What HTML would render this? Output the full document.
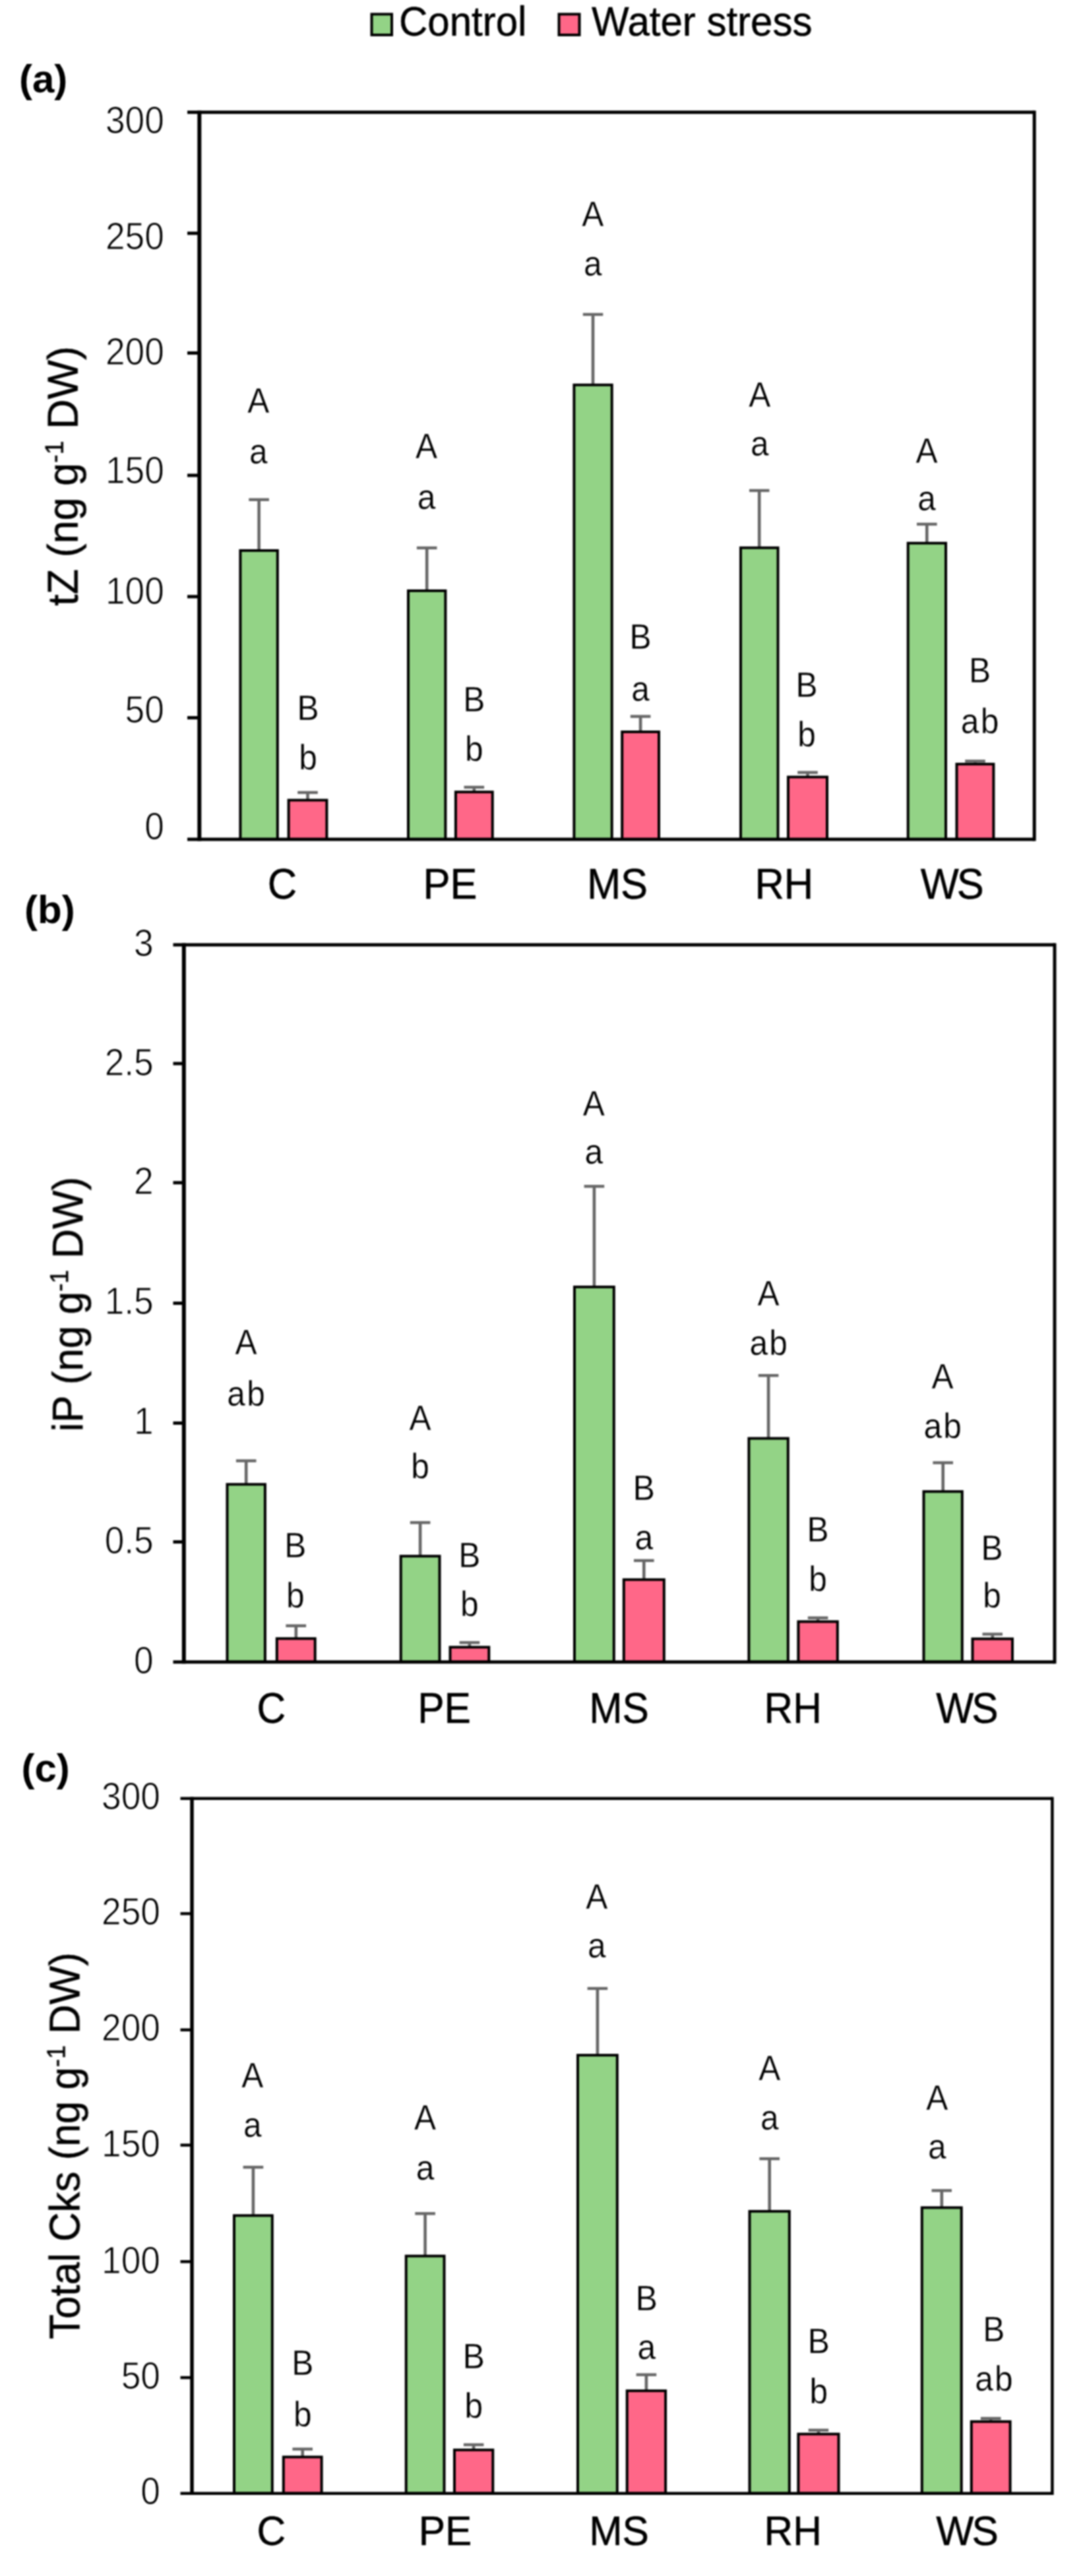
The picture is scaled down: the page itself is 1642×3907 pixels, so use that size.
<!DOCTYPE html>
<html lang="en"><head><meta charset="utf-8"><title>Figure</title>
<style>
html,body{margin:0;padding:0;background:#fff;}
svg{display:block;}
text{font-family:"Liberation Sans",sans-serif;fill:#000;}
text.a{fill:#000;stroke:#fff;stroke-width:0.35px;}
text.t{fill:#000;stroke:#fff;stroke-width:1.0px;}
text.s{stroke:#000;stroke-width:0.5px;}
text.b{font-weight:bold;}
.bl{filter:blur(0.8px);}
</style></head><body>
<svg width="1642" height="3907" viewBox="0 0 1642 3907">
<rect width="100%" height="100%" fill="#fff"/>
<g>
<g class="bl">
<rect x="563.5" y="21.5" width="30.5" height="31.5" fill="#93D386" stroke="#000" stroke-width="4"/>
<text transform="translate(605.0,54.0) scale(1,1.04)" font-size="60" text-anchor="start" class="s" >Control</text>
<rect x="847.5" y="21.5" width="31" height="31.5" fill="#FF6788" stroke="#000" stroke-width="4"/>
<text transform="translate(897.0,54.0) scale(1,1.04)" font-size="60" text-anchor="start" class="s" >Water stress</text>
<text x="29.0" y="139.5" font-size="60" text-anchor="start" class="b" >(a)</text>
<text x="37.0" y="1400.0" font-size="60" text-anchor="start" class="b" >(b)</text>
<text x="32.5" y="2702.4" font-size="60" text-anchor="start" class="b" >(c)</text>
</g>
<g class="bl">
<line x1="392.6" y1="757.8" x2="392.6" y2="835.0" stroke="#666666" stroke-width="4.6"/>
<line x1="377.3" y1="757.8" x2="407.9" y2="757.8" stroke="#666666" stroke-width="4.4"/>
<rect x="364.4" y="835.0" width="56.4" height="438.0" fill="#93D386" stroke="#000" stroke-width="4"/>
<text transform="translate(391.7,625.6) scale(0.92,1)" font-size="54" text-anchor="middle" class="a" >A</text>
<text transform="translate(391.7,703.0) scale(0.92,1)" font-size="54" text-anchor="middle" class="a" >a</text>
<line x1="466.5" y1="1202.0" x2="466.5" y2="1213.6" stroke="#666666" stroke-width="4.6"/>
<line x1="451.2" y1="1202.0" x2="481.8" y2="1202.0" stroke="#666666" stroke-width="4.4"/>
<rect x="437.6" y="1213.6" width="57.8" height="59.4" fill="#FF6788" stroke="#000" stroke-width="4"/>
<text transform="translate(467.0,1092.0) scale(0.92,1)" font-size="54" text-anchor="middle" class="a" >B</text>
<text transform="translate(467.0,1166.8) scale(0.92,1)" font-size="54" text-anchor="middle" class="a" >b</text>
<line x1="647.2" y1="831.0" x2="647.2" y2="896.0" stroke="#666666" stroke-width="4.6"/>
<line x1="631.9" y1="831.0" x2="662.5" y2="831.0" stroke="#666666" stroke-width="4.4"/>
<rect x="619.0" y="896.0" width="56.4" height="377.0" fill="#93D386" stroke="#000" stroke-width="4"/>
<text transform="translate(646.5,694.5) scale(0.92,1)" font-size="54" text-anchor="middle" class="a" >A</text>
<text transform="translate(646.5,771.7) scale(0.92,1)" font-size="54" text-anchor="middle" class="a" >a</text>
<line x1="718.8" y1="1194.0" x2="718.8" y2="1201.2" stroke="#666666" stroke-width="4.6"/>
<line x1="703.5" y1="1194.0" x2="734.1" y2="1194.0" stroke="#666666" stroke-width="4.4"/>
<rect x="690.9" y="1201.2" width="55.8" height="71.8" fill="#FF6788" stroke="#000" stroke-width="4"/>
<text transform="translate(718.8,1078.5) scale(0.92,1)" font-size="54" text-anchor="middle" class="a" >B</text>
<text transform="translate(718.8,1154.3) scale(0.92,1)" font-size="54" text-anchor="middle" class="a" >b</text>
<line x1="899.0" y1="476.9" x2="899.0" y2="583.8" stroke="#666666" stroke-width="4.6"/>
<line x1="883.8" y1="476.9" x2="914.3" y2="476.9" stroke="#666666" stroke-width="4.4"/>
<rect x="870.4" y="583.8" width="57.3" height="689.2" fill="#93D386" stroke="#000" stroke-width="4"/>
<text transform="translate(898.8,342.7) scale(0.92,1)" font-size="54" text-anchor="middle" class="a" >A</text>
<text transform="translate(898.8,417.5) scale(0.92,1)" font-size="54" text-anchor="middle" class="a" >a</text>
<line x1="971.1" y1="1086.6" x2="971.1" y2="1110.0" stroke="#666666" stroke-width="4.6"/>
<line x1="955.8" y1="1086.6" x2="986.4" y2="1086.6" stroke="#666666" stroke-width="4.4"/>
<rect x="943.2" y="1110.0" width="55.8" height="163.0" fill="#FF6788" stroke="#000" stroke-width="4"/>
<text transform="translate(971.0,984.4) scale(0.92,1)" font-size="54" text-anchor="middle" class="a" >B</text>
<text transform="translate(971.0,1063.2) scale(0.92,1)" font-size="54" text-anchor="middle" class="a" >a</text>
<line x1="1151.2" y1="744.0" x2="1151.2" y2="830.8" stroke="#666666" stroke-width="4.6"/>
<line x1="1136.0" y1="744.0" x2="1166.5" y2="744.0" stroke="#666666" stroke-width="4.4"/>
<rect x="1123.0" y="830.8" width="56.5" height="442.2" fill="#93D386" stroke="#000" stroke-width="4"/>
<text transform="translate(1151.7,617.0) scale(0.92,1)" font-size="54" text-anchor="middle" class="a" >A</text>
<text transform="translate(1151.7,691.0) scale(0.92,1)" font-size="54" text-anchor="middle" class="a" >a</text>
<line x1="1224.5" y1="1171.6" x2="1224.5" y2="1178.5" stroke="#666666" stroke-width="4.6"/>
<line x1="1209.2" y1="1171.6" x2="1239.8" y2="1171.6" stroke="#666666" stroke-width="4.4"/>
<rect x="1195.0" y="1178.5" width="59.0" height="94.5" fill="#FF6788" stroke="#000" stroke-width="4"/>
<text transform="translate(1223.0,1057.0) scale(0.92,1)" font-size="54" text-anchor="middle" class="a" >B</text>
<text transform="translate(1223.0,1131.8) scale(0.92,1)" font-size="54" text-anchor="middle" class="a" >b</text>
<line x1="1405.3" y1="795.0" x2="1405.3" y2="823.8" stroke="#666666" stroke-width="4.6"/>
<line x1="1390.0" y1="795.0" x2="1420.6" y2="795.0" stroke="#666666" stroke-width="4.4"/>
<rect x="1376.7" y="823.8" width="57.3" height="449.2" fill="#93D386" stroke="#000" stroke-width="4"/>
<text transform="translate(1405.0,702.0) scale(0.92,1)" font-size="54" text-anchor="middle" class="a" >A</text>
<text transform="translate(1405.0,774.4) scale(0.92,1)" font-size="54" text-anchor="middle" class="a" >a</text>
<line x1="1478.5" y1="1154.4" x2="1478.5" y2="1158.9" stroke="#666666" stroke-width="4.6"/>
<line x1="1463.2" y1="1154.4" x2="1493.8" y2="1154.4" stroke="#666666" stroke-width="4.4"/>
<rect x="1450.5" y="1158.9" width="55.9" height="114.1" fill="#FF6788" stroke="#000" stroke-width="4"/>
<text transform="translate(1485.5,1034.5) scale(0.92,1)" font-size="54" text-anchor="middle" class="a" >B</text>
<text transform="translate(1486.7,1112.0) scale(0.92,1)" font-size="54" text-anchor="middle" class="a" letter-spacing="2.5">ab</text>
<line x1="302.3" y1="167.8" x2="302.3" y2="1275.5" stroke="#000" stroke-width="6"/>
<line x1="1568.2" y1="167.8" x2="1568.2" y2="1275.5" stroke="#000" stroke-width="5"/>
<line x1="284.0" y1="170.3" x2="1568.2" y2="170.3" stroke="#000" stroke-width="5"/>
<line x1="284.0" y1="1273.0" x2="1568.2" y2="1273.0" stroke="#000" stroke-width="5"/>
<line x1="284.0" y1="353.8" x2="302.3" y2="353.8" stroke="#000" stroke-width="5"/>
<line x1="284.0" y1="535.4" x2="302.3" y2="535.4" stroke="#000" stroke-width="5"/>
<line x1="284.0" y1="721.0" x2="302.3" y2="721.0" stroke="#000" stroke-width="5"/>
<line x1="284.0" y1="904.9" x2="302.3" y2="904.9" stroke="#000" stroke-width="5"/>
<line x1="284.0" y1="1088.6" x2="302.3" y2="1088.6" stroke="#000" stroke-width="5"/>
<text transform="translate(248.8,201.7) scale(0.935,1)" font-size="57" text-anchor="end" class="t" >300</text>
<text transform="translate(248.8,378.3) scale(0.935,1)" font-size="57" text-anchor="end" class="t" >250</text>
<text transform="translate(248.8,552.9) scale(0.935,1)" font-size="57" text-anchor="end" class="t" >200</text>
<text transform="translate(248.8,733.0) scale(0.935,1)" font-size="57" text-anchor="end" class="t" >150</text>
<text transform="translate(248.8,916.2) scale(0.935,1)" font-size="57" text-anchor="end" class="t" >100</text>
<text transform="translate(248.8,1095.6) scale(0.935,1)" font-size="57" text-anchor="end" class="t" >50</text>
<text transform="translate(248.8,1272.5) scale(0.935,1)" font-size="57" text-anchor="end" class="t" >0</text>
<text transform="translate(428.0,1362.5) scale(1,1.045)" font-size="61.5" text-anchor="middle" class="s" >C</text>
<text transform="translate(682.6,1362.5) scale(1,1.045)" font-size="61.5" text-anchor="middle" class="s" >PE</text>
<text transform="translate(936.0,1362.5) scale(1,1.045)" font-size="61.5" text-anchor="middle" class="s" >MS</text>
<text transform="translate(1188.8,1362.5) scale(1,1.045)" font-size="61.5" text-anchor="middle" class="s" >RH</text>
<text transform="translate(1442.3,1362.5) scale(1,1.045)" font-size="61.5" text-anchor="middle" class="s" letter-spacing="-3">WS</text>
<text transform="translate(117.7,919.0) rotate(-90) scale(0.969,1)" font-size="65" class="s">tZ (ng g<tspan font-size="39" dy="-22">-1</tspan><tspan dy="22"> </tspan>DW)</text>
</g>
<g class="bl">
<line x1="373.2" y1="2215.6" x2="373.2" y2="2251.3" stroke="#666666" stroke-width="4.6"/>
<line x1="357.9" y1="2215.6" x2="388.5" y2="2215.6" stroke="#666666" stroke-width="4.4"/>
<rect x="344.5" y="2251.3" width="57.4" height="269.4" fill="#93D386" stroke="#000" stroke-width="4"/>
<text transform="translate(373.0,2054.3) scale(0.92,1)" font-size="54" text-anchor="middle" class="a" >A</text>
<text transform="translate(374.2,2131.6) scale(0.92,1)" font-size="54" text-anchor="middle" class="a" letter-spacing="2.5">ab</text>
<line x1="448.8" y1="2465.8" x2="448.8" y2="2485.2" stroke="#666666" stroke-width="4.6"/>
<line x1="433.4" y1="2465.8" x2="464.1" y2="2465.8" stroke="#666666" stroke-width="4.4"/>
<rect x="419.8" y="2485.2" width="57.9" height="35.5" fill="#FF6788" stroke="#000" stroke-width="4"/>
<text transform="translate(447.7,2362.0) scale(0.92,1)" font-size="54" text-anchor="middle" class="a" >B</text>
<text transform="translate(447.7,2438.3) scale(0.92,1)" font-size="54" text-anchor="middle" class="a" >b</text>
<line x1="637.1" y1="2309.3" x2="637.1" y2="2360.2" stroke="#666666" stroke-width="4.6"/>
<line x1="621.8" y1="2309.3" x2="652.4" y2="2309.3" stroke="#666666" stroke-width="4.4"/>
<rect x="607.7" y="2360.2" width="58.8" height="160.5" fill="#93D386" stroke="#000" stroke-width="4"/>
<text transform="translate(637.1,2168.7) scale(0.92,1)" font-size="54" text-anchor="middle" class="a" >A</text>
<text transform="translate(637.1,2242.0) scale(0.92,1)" font-size="54" text-anchor="middle" class="a" >b</text>
<line x1="711.9" y1="2491.3" x2="711.9" y2="2498.3" stroke="#666666" stroke-width="4.6"/>
<line x1="696.6" y1="2491.3" x2="727.2" y2="2491.3" stroke="#666666" stroke-width="4.4"/>
<rect x="682.5" y="2498.3" width="58.8" height="22.4" fill="#FF6788" stroke="#000" stroke-width="4"/>
<text transform="translate(711.9,2376.6) scale(0.92,1)" font-size="54" text-anchor="middle" class="a" >B</text>
<text transform="translate(711.9,2451.4) scale(0.92,1)" font-size="54" text-anchor="middle" class="a" >b</text>
<line x1="900.9" y1="1799.3" x2="900.9" y2="1951.9" stroke="#666666" stroke-width="4.6"/>
<line x1="885.6" y1="1799.3" x2="916.2" y2="1799.3" stroke="#666666" stroke-width="4.4"/>
<rect x="871.0" y="1951.9" width="59.8" height="568.8" fill="#93D386" stroke="#000" stroke-width="4"/>
<text transform="translate(900.4,1692.0) scale(0.92,1)" font-size="54" text-anchor="middle" class="a" >A</text>
<text transform="translate(900.4,1765.4) scale(0.92,1)" font-size="54" text-anchor="middle" class="a" >a</text>
<line x1="976.3" y1="2366.9" x2="976.3" y2="2395.8" stroke="#666666" stroke-width="4.6"/>
<line x1="961.0" y1="2366.9" x2="991.6" y2="2366.9" stroke="#666666" stroke-width="4.4"/>
<rect x="945.8" y="2395.8" width="61.0" height="124.9" fill="#FF6788" stroke="#000" stroke-width="4"/>
<text transform="translate(976.2,2275.4) scale(0.92,1)" font-size="54" text-anchor="middle" class="a" >B</text>
<text transform="translate(976.2,2350.2) scale(0.92,1)" font-size="54" text-anchor="middle" class="a" >a</text>
<line x1="1165.1" y1="2086.2" x2="1165.1" y2="2181.6" stroke="#666666" stroke-width="4.6"/>
<line x1="1149.8" y1="2086.2" x2="1180.4" y2="2086.2" stroke="#666666" stroke-width="4.4"/>
<rect x="1135.4" y="2181.6" width="59.4" height="339.1" fill="#93D386" stroke="#000" stroke-width="4"/>
<text transform="translate(1165.1,1979.5) scale(0.92,1)" font-size="54" text-anchor="middle" class="a" >A</text>
<text transform="translate(1166.3,2054.6) scale(0.92,1)" font-size="54" text-anchor="middle" class="a" letter-spacing="2.5">ab</text>
<line x1="1240.1" y1="2453.8" x2="1240.1" y2="2459.5" stroke="#666666" stroke-width="4.6"/>
<line x1="1224.8" y1="2453.8" x2="1255.4" y2="2453.8" stroke="#666666" stroke-width="4.4"/>
<rect x="1210.4" y="2459.5" width="59.4" height="61.2" fill="#FF6788" stroke="#000" stroke-width="4"/>
<text transform="translate(1240.1,2338.0) scale(0.92,1)" font-size="54" text-anchor="middle" class="a" >B</text>
<text transform="translate(1240.1,2413.1) scale(0.92,1)" font-size="54" text-anchor="middle" class="a" >b</text>
<line x1="1429.7" y1="2218.5" x2="1429.7" y2="2262.2" stroke="#666666" stroke-width="4.6"/>
<line x1="1414.4" y1="2218.5" x2="1445.0" y2="2218.5" stroke="#666666" stroke-width="4.4"/>
<rect x="1400.5" y="2262.2" width="58.3" height="258.5" fill="#93D386" stroke="#000" stroke-width="4"/>
<text transform="translate(1429.1,2106.2) scale(0.92,1)" font-size="54" text-anchor="middle" class="a" >A</text>
<text transform="translate(1430.3,2180.7) scale(0.92,1)" font-size="54" text-anchor="middle" class="a" letter-spacing="2.5">ab</text>
<line x1="1504.8" y1="2478.5" x2="1504.8" y2="2485.6" stroke="#666666" stroke-width="4.6"/>
<line x1="1489.5" y1="2478.5" x2="1520.0" y2="2478.5" stroke="#666666" stroke-width="4.4"/>
<rect x="1474.5" y="2485.6" width="60.5" height="35.1" fill="#FF6788" stroke="#000" stroke-width="4"/>
<text transform="translate(1504.1,2365.8) scale(0.92,1)" font-size="54" text-anchor="middle" class="a" >B</text>
<text transform="translate(1504.1,2438.1) scale(0.92,1)" font-size="54" text-anchor="middle" class="a" >b</text>
<line x1="278.8" y1="1430.5" x2="278.8" y2="2523.2" stroke="#000" stroke-width="6"/>
<line x1="1599.0" y1="1430.5" x2="1599.0" y2="2523.2" stroke="#000" stroke-width="5"/>
<line x1="262.5" y1="1433.0" x2="1599.0" y2="1433.0" stroke="#000" stroke-width="5"/>
<line x1="262.5" y1="2520.7" x2="1599.0" y2="2520.7" stroke="#000" stroke-width="5"/>
<line x1="262.5" y1="1613.1" x2="278.8" y2="1613.1" stroke="#000" stroke-width="5"/>
<line x1="262.5" y1="1793.8" x2="278.8" y2="1793.8" stroke="#000" stroke-width="5"/>
<line x1="262.5" y1="1976.6" x2="278.8" y2="1976.6" stroke="#000" stroke-width="5"/>
<line x1="262.5" y1="2158.4" x2="278.8" y2="2158.4" stroke="#000" stroke-width="5"/>
<line x1="262.5" y1="2338.6" x2="278.8" y2="2338.6" stroke="#000" stroke-width="5"/>
<text transform="translate(232.7,1449.5) scale(0.935,1)" font-size="57" text-anchor="end" class="t" >3</text>
<text transform="translate(232.7,1631.3) scale(0.935,1)" font-size="57" text-anchor="end" class="t" >2.5</text>
<text transform="translate(232.7,1811.2) scale(0.935,1)" font-size="57" text-anchor="end" class="t" >2</text>
<text transform="translate(232.7,1992.8) scale(0.935,1)" font-size="57" text-anchor="end" class="t" >1.5</text>
<text transform="translate(232.7,2174.5) scale(0.935,1)" font-size="57" text-anchor="end" class="t" >1</text>
<text transform="translate(232.7,2356.2) scale(0.935,1)" font-size="57" text-anchor="end" class="t" >0.5</text>
<text transform="translate(232.7,2537.8) scale(0.935,1)" font-size="57" text-anchor="end" class="t" >0</text>
<text transform="translate(411.3,2612.9) scale(1,1.075)" font-size="60.5" text-anchor="middle" class="s" >C</text>
<text transform="translate(673.5,2612.9) scale(1,1.075)" font-size="60.5" text-anchor="middle" class="s" >PE</text>
<text transform="translate(938.5,2612.9) scale(1,1.075)" font-size="60.5" text-anchor="middle" class="s" >MS</text>
<text transform="translate(1202.3,2612.9) scale(1,1.075)" font-size="60.5" text-anchor="middle" class="s" >RH</text>
<text transform="translate(1465.0,2612.9) scale(1,1.075)" font-size="60.5" text-anchor="middle" class="s" letter-spacing="-3">WS</text>
<text transform="translate(125.2,2171.5) rotate(-90) scale(0.9535,1)" font-size="65" class="s">iP (ng g<tspan font-size="39" dy="-22">-1</tspan><tspan dy="22"> </tspan>DW)</text>
</g>
<g class="bl">
<line x1="383.9" y1="3287.0" x2="383.9" y2="3360.3" stroke="#666666" stroke-width="4.6"/>
<line x1="368.6" y1="3287.0" x2="399.2" y2="3287.0" stroke="#666666" stroke-width="4.4"/>
<rect x="355.0" y="3360.3" width="57.8" height="421.4" fill="#93D386" stroke="#000" stroke-width="4"/>
<text transform="translate(382.9,3165.6) scale(0.92,1)" font-size="54" text-anchor="middle" class="a" >A</text>
<text transform="translate(382.9,3240.6) scale(0.92,1)" font-size="54" text-anchor="middle" class="a" >a</text>
<line x1="458.7" y1="3714.5" x2="458.7" y2="3726.5" stroke="#666666" stroke-width="4.6"/>
<line x1="443.4" y1="3714.5" x2="474.0" y2="3714.5" stroke="#666666" stroke-width="4.4"/>
<rect x="429.8" y="3726.5" width="57.8" height="55.2" fill="#FF6788" stroke="#000" stroke-width="4"/>
<text transform="translate(458.7,3602.0) scale(0.92,1)" font-size="54" text-anchor="middle" class="a" >B</text>
<text transform="translate(458.7,3680.1) scale(0.92,1)" font-size="54" text-anchor="middle" class="a" >b</text>
<line x1="644.6" y1="3357.3" x2="644.6" y2="3421.7" stroke="#666666" stroke-width="4.6"/>
<line x1="629.3" y1="3357.3" x2="659.9" y2="3357.3" stroke="#666666" stroke-width="4.4"/>
<rect x="615.7" y="3421.7" width="57.8" height="360.0" fill="#93D386" stroke="#000" stroke-width="4"/>
<text transform="translate(644.6,3229.8) scale(0.92,1)" font-size="54" text-anchor="middle" class="a" >A</text>
<text transform="translate(644.6,3306.1) scale(0.92,1)" font-size="54" text-anchor="middle" class="a" >a</text>
<line x1="718.1" y1="3707.9" x2="718.1" y2="3715.8" stroke="#666666" stroke-width="4.6"/>
<line x1="702.9" y1="3707.9" x2="733.4" y2="3707.9" stroke="#666666" stroke-width="4.4"/>
<rect x="689.0" y="3715.8" width="58.3" height="65.9" fill="#FF6788" stroke="#000" stroke-width="4"/>
<text transform="translate(718.4,3591.7) scale(0.92,1)" font-size="54" text-anchor="middle" class="a" >B</text>
<text transform="translate(718.4,3666.5) scale(0.92,1)" font-size="54" text-anchor="middle" class="a" >b</text>
<line x1="905.9" y1="3015.9" x2="905.9" y2="3117.1" stroke="#666666" stroke-width="4.6"/>
<line x1="890.6" y1="3015.9" x2="921.2" y2="3015.9" stroke="#666666" stroke-width="4.4"/>
<rect x="876.0" y="3117.1" width="59.8" height="664.6" fill="#93D386" stroke="#000" stroke-width="4"/>
<text transform="translate(904.9,2894.7) scale(0.92,1)" font-size="54" text-anchor="middle" class="a" >A</text>
<text transform="translate(904.9,2968.5) scale(0.92,1)" font-size="54" text-anchor="middle" class="a" >a</text>
<line x1="979.9" y1="3601.7" x2="979.9" y2="3626.1" stroke="#666666" stroke-width="4.6"/>
<line x1="964.6" y1="3601.7" x2="995.2" y2="3601.7" stroke="#666666" stroke-width="4.4"/>
<rect x="950.7" y="3626.1" width="58.4" height="155.6" fill="#FF6788" stroke="#000" stroke-width="4"/>
<text transform="translate(980.2,3504.4) scale(0.92,1)" font-size="54" text-anchor="middle" class="a" >B</text>
<text transform="translate(980.2,3578.2) scale(0.92,1)" font-size="54" text-anchor="middle" class="a" >a</text>
<line x1="1166.7" y1="3274.1" x2="1166.7" y2="3353.9" stroke="#666666" stroke-width="4.6"/>
<line x1="1151.4" y1="3274.1" x2="1182.0" y2="3274.1" stroke="#666666" stroke-width="4.4"/>
<rect x="1136.5" y="3353.9" width="60.3" height="427.8" fill="#93D386" stroke="#000" stroke-width="4"/>
<text transform="translate(1166.7,3154.6) scale(0.92,1)" font-size="54" text-anchor="middle" class="a" >A</text>
<text transform="translate(1166.7,3229.6) scale(0.92,1)" font-size="54" text-anchor="middle" class="a" >a</text>
<line x1="1241.0" y1="3685.8" x2="1241.0" y2="3691.7" stroke="#666666" stroke-width="4.6"/>
<line x1="1225.7" y1="3685.8" x2="1256.2" y2="3685.8" stroke="#666666" stroke-width="4.4"/>
<rect x="1210.4" y="3691.7" width="61.1" height="90.0" fill="#FF6788" stroke="#000" stroke-width="4"/>
<text transform="translate(1241.2,3569.0) scale(0.92,1)" font-size="54" text-anchor="middle" class="a" >B</text>
<text transform="translate(1241.2,3645.2) scale(0.92,1)" font-size="54" text-anchor="middle" class="a" >b</text>
<line x1="1427.8" y1="3322.4" x2="1427.8" y2="3348.3" stroke="#666666" stroke-width="4.6"/>
<line x1="1412.5" y1="3322.4" x2="1443.0" y2="3322.4" stroke="#666666" stroke-width="4.4"/>
<rect x="1397.8" y="3348.3" width="59.9" height="433.4" fill="#93D386" stroke="#000" stroke-width="4"/>
<text transform="translate(1420.8,3200.1) scale(0.92,1)" font-size="54" text-anchor="middle" class="a" >A</text>
<text transform="translate(1420.8,3274.1) scale(0.92,1)" font-size="54" text-anchor="middle" class="a" >a</text>
<line x1="1502.2" y1="3668.0" x2="1502.2" y2="3672.8" stroke="#666666" stroke-width="4.6"/>
<line x1="1486.9" y1="3668.0" x2="1517.5" y2="3668.0" stroke="#666666" stroke-width="4.4"/>
<rect x="1472.8" y="3672.8" width="58.8" height="108.9" fill="#FF6788" stroke="#000" stroke-width="4"/>
<text transform="translate(1506.9,3550.7) scale(0.92,1)" font-size="54" text-anchor="middle" class="a" >B</text>
<text transform="translate(1508.1,3626.3) scale(0.92,1)" font-size="54" text-anchor="middle" class="a" letter-spacing="2.5">ab</text>
<line x1="291.0" y1="2725.4" x2="291.0" y2="3783.9" stroke="#000" stroke-width="5.5"/>
<line x1="1595.4" y1="2725.4" x2="1595.4" y2="3783.9" stroke="#000" stroke-width="4.5"/>
<line x1="273.5" y1="2727.7" x2="1595.4" y2="2727.7" stroke="#000" stroke-width="4.5"/>
<line x1="273.5" y1="3781.7" x2="1595.4" y2="3781.7" stroke="#000" stroke-width="4.5"/>
<line x1="273.5" y1="2902.4" x2="291.0" y2="2902.4" stroke="#000" stroke-width="4.5"/>
<line x1="273.5" y1="3078.7" x2="291.0" y2="3078.7" stroke="#000" stroke-width="4.5"/>
<line x1="273.5" y1="3253.5" x2="291.0" y2="3253.5" stroke="#000" stroke-width="4.5"/>
<line x1="273.5" y1="3430.2" x2="291.0" y2="3430.2" stroke="#000" stroke-width="4.5"/>
<line x1="273.5" y1="3606.1" x2="291.0" y2="3606.1" stroke="#000" stroke-width="4.5"/>
<text transform="translate(243.0,2744.4) scale(0.935,1)" font-size="57" text-anchor="end" class="t" >300</text>
<text transform="translate(243.0,2919.3) scale(0.935,1)" font-size="57" text-anchor="end" class="t" >250</text>
<text transform="translate(243.0,3095.3) scale(0.935,1)" font-size="57" text-anchor="end" class="t" >200</text>
<text transform="translate(243.0,3270.7) scale(0.935,1)" font-size="57" text-anchor="end" class="t" >150</text>
<text transform="translate(243.0,3447.8) scale(0.935,1)" font-size="57" text-anchor="end" class="t" >100</text>
<text transform="translate(243.0,3623.1) scale(0.935,1)" font-size="57" text-anchor="end" class="t" >50</text>
<text transform="translate(243.0,3798.1) scale(0.935,1)" font-size="57" text-anchor="end" class="t" >0</text>
<text transform="translate(411.4,3860.1) scale(1,1.03)" font-size="60.5" text-anchor="middle" class="s" >C</text>
<text transform="translate(675.0,3860.1) scale(1,1.03)" font-size="60.5" text-anchor="middle" class="s" >PE</text>
<text transform="translate(938.5,3860.1) scale(1,1.03)" font-size="60.5" text-anchor="middle" class="s" >MS</text>
<text transform="translate(1202.3,3860.1) scale(1,1.03)" font-size="60.5" text-anchor="middle" class="s" >RH</text>
<text transform="translate(1465.0,3860.1) scale(1,1.03)" font-size="60.5" text-anchor="middle" class="s" letter-spacing="-3">WS</text>
<text transform="translate(120.5,3548.0) rotate(-90) scale(0.9525,1)" font-size="65" class="s">Total Cks (ng g<tspan font-size="39" dy="-22">-1</tspan><tspan dy="22"> </tspan>DW)</text>
</g>
</g>
</svg>
</body></html>
